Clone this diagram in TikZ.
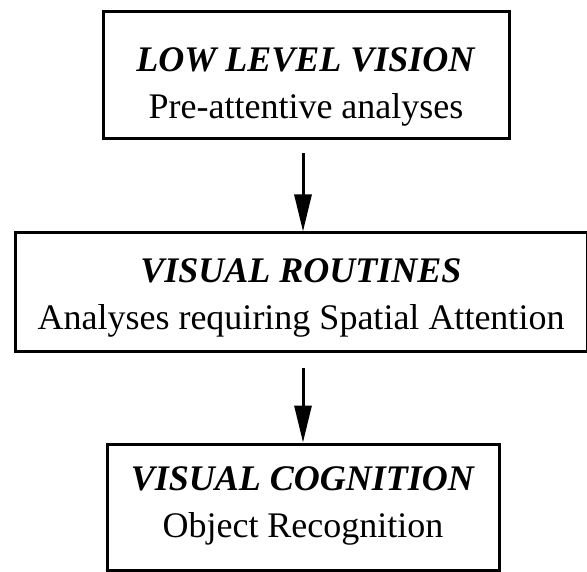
\documentclass[tikz,border=0pt]{standalone}
\usepackage{fontspec}
\setmainfont{Liberation Serif}
\usetikzlibrary{arrows.meta}

\tikzset{
  stage/.style = {draw, line width = 3pt, inner sep = 0pt},
  caption/.style = {align = center, inner sep = 0pt,
    font = \fontsize{36}{47}\selectfont},
  flow/.style = {line width = 3pt, -{Triangle[length = 37pt, width = 17pt]}}
}

\begin{document}
\begin{tikzpicture}[x = 1pt, y = -1pt]
    \useasboundingbox (0, 0) rectangle (587, 572);

    % boxes
    \node[stage, minimum width = 406pt, minimum height = 127pt]
      (lowlevel) at (306, 75.5) {};
    \node[stage, minimum width = 572pt, minimum height = 119pt]
      (routines) at (301, 292.5) {};
    \node[stage, minimum width = 392pt, minimum height = 126pt]
      (cognition) at (303, 507) {};

    % texts
    \node[caption] (lowleveltext) at ([yshift = -11pt]lowlevel.center)
      {\textbf{\textit{LOW LEVEL VISION}}\\ Pre-attentive analyses};
    \node[caption] (routinestext) at ([yshift = -5pt]routines.center)
      {\textbf{\textit{VISUAL ROUTINES}}\\ Analyses requiring Spatial Attention};
    \node[caption] (cognitiontext) at ([yshift = 1pt]cognition.center)
      {\textbf{\textit{VISUAL COGNITION}}\\ Object Recognition};

    % arrows
    \draw[flow, shorten <= 13pt]
      (lowlevel.south -| cognition.north) -- (routines.north -| cognition.north);
    \draw[flow, shorten <= 15pt]
      (routines.south -| cognition.north) -- (cognition.north);
\end{tikzpicture}
\end{document}
